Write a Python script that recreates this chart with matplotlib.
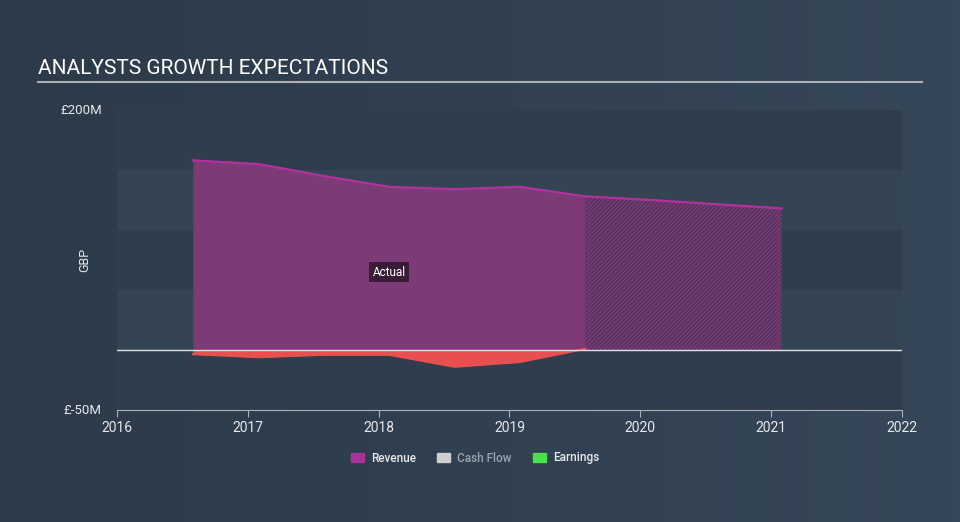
import matplotlib
matplotlib.use("Agg")
import matplotlib.pyplot as plt
import numpy as np
from matplotlib.patches import Patch
from matplotlib.colors import LinearSegmentedColormap

plt.rcParams['font.family'] = ['Roboto', 'DejaVu Sans']

# Data (GBP millions)
rev_years_actual = [2016.58, 2017.08, 2017.58, 2018.08, 2018.58, 2019.08, 2019.58]
rev_actual = [158, 155, 145, 136, 134, 136, 128]
rev_years_fc = [2019.58, 2020.08, 2021.08]
rev_fc = [128, 125, 118]
earn_years = [2016.58, 2017.08, 2017.58, 2018.08, 2018.58, 2019.08, 2019.58]
earn_vals = [-3.5, -6, -4, -4, -14, -10, 1]
xticks = [2016, 2017, 2018, 2019, 2020, 2021, 2022]
ytick_vals = [200, -50]
ytick_labels = ['£200M', '£-50M']

W, H = 960, 522
fig = plt.figure(figsize=(W / 100, H / 100), dpi=100)

# background gradient
bg = fig.add_axes([0, 0, 1, 1])
grad = np.linspace(0, 1, 256).reshape(1, -1)
cmap = LinearSegmentedColormap.from_list('bg', ['#2c3a49', '#364759'])
bg.imshow(grad, aspect='auto', cmap=cmap, extent=[0, 1, 0, 1])
bg.set_xlim(0, 1); bg.set_ylim(0, 1)
bg.axis('off')

# title and underline
fig.text(38 / W, 1 - 68 / H, 'ANALYSTS GROWTH EXPECTATIONS', color='#ffffff',
         fontsize=15, va='center', ha='left')
bg.plot([38 / W, 922 / W], [1 - 82 / H, 1 - 82 / H], color='#a9b0b8', lw=1.5)

ax = fig.add_axes([117 / W, 1 - 410 / H, (902 - 117) / W, (410 - 110) / H])
ax.set_xlim(2016, 2022)
ax.set_ylim(-50, 200)
ax.patch.set_alpha(0)

# horizontal bands
band_cols = ['#2f3d4c', '#344453', '#2f3d4c', '#344453', '#2f3d4c']
edges = [200, 150, 100, 50, 0, -50]
for i in range(5):
    ax.axhspan(edges[i + 1], edges[i], color=band_cols[i], lw=0, zorder=0)

# revenue actual
ax.fill_between(rev_years_actual, 0, rev_actual, color='#7c3a77', lw=0, zorder=2)
ax.plot(rev_years_actual, rev_actual, color='#b1329f', lw=1.6, zorder=4)
# revenue forecast
plt.rcParams['hatch.linewidth'] = 1.2
ax.fill_between(rev_years_fc, 0, rev_fc, facecolor='#4d3458', edgecolor='#7a3a78',
                hatch='////////', lw=0, zorder=2)
ax.plot(rev_years_fc, rev_fc, color='#b1329f', lw=1.6, zorder=4)

# earnings
ey = np.array(earn_vals)
ax.fill_between(earn_years, 0, ey, where=ey <= 0, interpolate=True, color='#e8504f', lw=0, zorder=3)
ax.fill_between(earn_years, 0, ey, where=ey >= 0, interpolate=True, color='#4ae04a', lw=0, zorder=3)
ax.plot(earn_years, earn_vals, color='#e8504f', lw=1.5, zorder=4)

# zero line
ax.axhline(0, color='#dfe3e6', lw=1, zorder=5)

# Actual label
ax.text(2018.08, 65, 'Actual', color='#ffffff', fontsize=8.5, ha='center', va='center',
        zorder=6, bbox=dict(boxstyle='square,pad=0.3', fc='#3a1c37', ec='none'))

# axes styling
for s in ['top', 'right', 'left']:
    ax.spines[s].set_visible(False)
ax.spines['bottom'].set_color('#a9b0b8')
ax.set_xticks(xticks)
ax.set_xticklabels([str(x) for x in xticks])
ax.tick_params(axis='x', colors='#a9b0b8', labelcolor='#e6e9ec', labelsize=10, length=5, pad=3)
ax.set_yticks(ytick_vals)
ax.set_yticklabels(ytick_labels)
ax.tick_params(axis='y', length=0, labelcolor='#e6e9ec', labelsize=9.5, pad=11)
for lbl in ax.get_yticklabels():
    lbl.set_va('center')
ax.set_ylabel('GBP', color='#e6e9ec', fontsize=9)
ax.yaxis.set_label_coords((91 - 117) / 785, 0.5)

# legend
handles = [Patch(color='#a8329c', label='Revenue'),
           Patch(color='#cfcfcf', label='Cash Flow'),
           Patch(color='#4ae04a', label='Earnings')]
leg = fig.legend(handles=handles, loc='center', bbox_to_anchor=(475 / W, 1 - 458 / H),
                 ncol=3, frameon=False, fontsize=8.5, handlelength=1.1, handleheight=0.9,
                 columnspacing=1.8, handletextpad=0.6)
cols = ['#e6e9ec', '#9aa3ad', '#e6e9ec']
for t, c in zip(leg.get_texts(), cols):
    t.set_color(c)
    t.set_fontweight('medium')

fig.savefig('out.png', dpi=100)
